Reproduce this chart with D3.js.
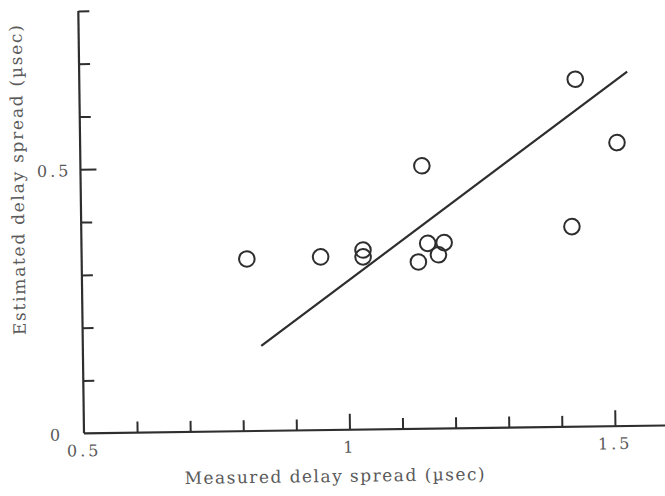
<!DOCTYPE html>
<html>
<head>
<meta charset="utf-8">
<script src="https://cdn.jsdelivr.net/npm/d3@7"></script>
<style>
  body { margin: 0; background: #fff; }
  svg { display: block; }
</style>
</head>
<body>
<script>
// measured vs estimated delay spread (usec)
const measured  = [0.811, 0.950, 1.030, 1.030, 1.143, 1.134, 1.152, 1.172, 1.183, 1.424, 1.434, 1.511];
const estimated = [0.326, 0.328, 0.340, 0.327, 0.498, 0.316, 0.351, 0.329, 0.352, 0.379, 0.658, 0.537];

// regression line end points
const fitX = [0.836, 1.532];
const fitY = [0.161, 0.671];

const xTicks = [0.6, 0.7, 0.8, 0.9, 1.0, 1.1, 1.2, 1.3, 1.4, 1.5];
const xMajor = [1.0, 1.5];
const xLabels = [0.5, 1, 1.5];
const xLabelText = ["0.5", "1", "1.5"];

const yTicks = [0.1, 0.2, 0.3, 0.4, 0.5, 0.6, 0.7, 0.8];
const yMajor = [0.5];
const yLabels = [0, 0.5];
const yLabelText = ["0", "0.5"];

const width = 665, height = 496;
const ink = "#2e2e2e", textInk = "#5a5a5a";
const font = "DejaVu Serif";

const svg = d3.select("body").append("svg")
    .attr("width", width)
    .attr("height", height);

// the scan is slightly rotated, so the whole plot is too
const g = svg.append("g")
    .attr("transform", "translate(84,433.3) rotate(-0.77)");

const x = d3.scaleLinear().domain([0.5, 1.5]).range([0, 531]);
const y = d3.scaleLinear().domain([0, 0.5]).range([0, -264]);

// x axis
const xAxis = d3.axisBottom(x)
    .tickValues(xTicks)
    .tickSizeInner(-11)
    .tickSizeOuter(0)
    .tickFormat("");

const xg = g.append("g").call(xAxis);
xg.select(".domain").remove();
xg.selectAll(".tick line")
    .attr("stroke", ink)
    .attr("stroke-width", 2)
    .attr("y2", d => xMajor.includes(d) ? -16 : -11);

g.append("line")
    .attr("x1", x(0.5)).attr("x2", x(1.63))
    .attr("y1", 0).attr("y2", 0)
    .attr("stroke", ink).attr("stroke-width", 2.2);

// y axis
const yAxis = d3.axisLeft(y)
    .tickValues(yTicks)
    .tickSizeInner(-11)
    .tickSizeOuter(0)
    .tickFormat("");

const yg = g.append("g").call(yAxis);
yg.select(".domain").remove();
yg.selectAll(".tick line")
    .attr("stroke", ink)
    .attr("stroke-width", 2)
    .attr("x2", d => yMajor.includes(d) ? 16 : 11);

g.append("line")
    .attr("x1", 0).attr("x2", 0)
    .attr("y1", y(0)).attr("y2", y(0.8))
    .attr("stroke", ink).attr("stroke-width", 2.2);

// tick labels
g.selectAll(".xlab")
    .data(xLabels)
    .enter().append("text")
    .attr("class", "xlab")
    .attr("x", d => x(d))
    .attr("y", 23)
    .attr("text-anchor", "middle")
    .attr("font-family", font)
    .attr("font-size", 16)
    .attr("letter-spacing", 3)
    .attr("fill", textInk)
    .text((d, i) => xLabelText[i]);

g.selectAll(".ylab")
    .data(yLabels)
    .enter().append("text")
    .attr("class", "ylab")
    .attr("x", d => d === 0 ? -21 : -9)
    .attr("y", d => y(d) + 7)
    .attr("text-anchor", "end")
    .attr("font-family", font)
    .attr("font-size", 16)
    .attr("letter-spacing", 3)
    .attr("fill", textInk)
    .text((d, i) => yLabelText[i]);

// axis titles
g.append("text")
    .attr("x", 250)
    .attr("y", 52)
    .attr("text-anchor", "middle")
    .attr("font-family", font)
    .attr("font-size", 17)
    .attr("fill", textInk)
    .attr("textLength", 300)
    .attr("lengthAdjust", "spacing")
    .text("Measured delay spread (\u00b5sec)");

g.append("text")
    .attr("transform", "translate(-57,-254) rotate(-90)")
    .attr("text-anchor", "middle")
    .attr("font-family", font)
    .attr("font-size", 17)
    .attr("fill", textInk)
    .attr("textLength", 310)
    .attr("lengthAdjust", "spacing")
    .text("Estimated delay spread (\u00b5sec)");

// fit line
const lineFunction = d3.line()
    .x(d => x(d[0]))
    .y(d => y(d[1]));

g.append("path")
    .datum(fitX.map((v, i) => [v, fitY[i]]))
    .attr("d", lineFunction)
    .attr("fill", "none")
    .attr("stroke", ink)
    .attr("stroke-width", 2.2);

// points
g.selectAll("circle")
    .data(measured)
    .enter().append("circle")
    .attr("cx", d => x(d))
    .attr("cy", (d, i) => y(estimated[i]))
    .attr("r", 7.8)
    .attr("fill", "none")
    .attr("stroke", ink)
    .attr("stroke-width", 2);
</script>
</body>
</html>
